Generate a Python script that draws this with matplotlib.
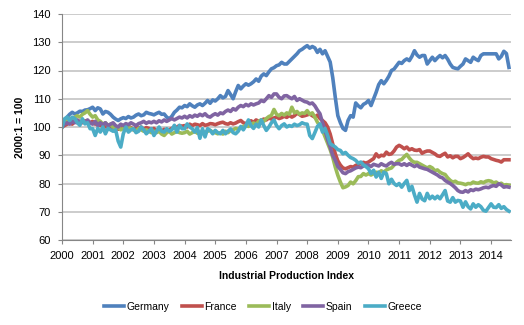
import numpy as np
import matplotlib
matplotlib.use("Agg")
import matplotlib.pyplot as plt

plt.rcParams['font.family'] = ['Liberation Sans', 'DejaVu Sans']

countries = ["Germany", "France", "Italy", "Spain", "Greece"]
colors = ["#4F81BD", "#C0504D", "#9BBB59", "#8064A2", "#4BACC6"]
start_year = 2000
x_ticks = list(range(2000, 2015))
y_ticks = [60, 70, 80, 90, 100, 110, 120, 130, 140]

germany = [
    100, 102, 103.5, 104.5, 105.2, 104.6, 105, 105.6, 105.5, 106, 106.1, 106.5,
    107, 105.8, 106.8, 106.4, 104.6, 105.5, 105.2, 104.5, 103.5, 102.8, 102.3, 102.9,
    103.3, 103, 103.7, 103.2, 103.5, 104.2, 104.6, 104, 104.3, 105.2, 104.8, 104.6,
    104.3, 104.8, 105.2, 104.5, 104.6, 103.5, 102.9, 103.8, 105.2, 106, 107, 106.8,
    107.6, 107.2, 108.2, 107.5, 107, 107.8, 108.2, 107.6, 108.4, 109.4, 108.4, 109.6,
    109.2, 110, 111.1, 110.3, 110.8, 112.9, 111.5, 110, 112.5, 114.7, 113.5, 114.5,
    115.3, 114.8, 115.3, 116, 117, 116.2, 118, 118.8, 118.2, 119.5, 120.6, 121,
    121.7, 122, 122.9, 122.3, 122.3, 123.2, 124.1, 125, 125.9, 127, 127.5, 128.2,
    128.8, 127.9, 128.5, 128, 126.4, 127.5, 125.9, 127, 125, 123, 117.5, 110.5,
    104, 101.5, 99.5, 98.8, 102.3, 104, 103.5, 108.5, 107.5, 106.8, 108, 108.5,
    109.4, 107.6, 110, 112.3, 115, 116.4, 115.3, 116.5, 118, 120, 120.5, 121.7,
    122.9, 122.5, 123.5, 124.1, 123.5, 125, 127, 125.5, 124.7, 125.3, 125.3, 122.3,
    123.5, 124.7, 123.5, 124.5, 125.3, 124.5, 125.3, 124, 122.3, 121.1, 120.8, 120.6,
    121.5, 122.3, 124.1, 123.5, 122.9, 124.7, 124, 123.5, 125.3, 125.9, 125.9, 125.9,
    125.9, 125.9, 125.9, 124.1, 125, 126.8, 126, 121.1,
]

france = [
    100, 100.5, 101, 101.5, 101, 102, 101.5, 102, 101.5, 102.2, 101.8, 101.5,
    102, 101, 101.5, 100.5, 101, 100, 100.5, 100.2, 99.5, 100, 99.2, 99.5,
    100, 99.5, 100.2, 99.8, 99, 100, 99.5, 100, 99.2, 99.8, 99.5, 99,
    99.5, 98.5, 99, 98.5, 99.2, 98.5, 99, 99.5, 99.8, 100, 100.5, 100.3,
    100.5, 100, 101, 100.5, 101, 100.8, 100.5, 101.2, 100.6, 100.8, 101.2, 101.1,
    100.8, 101.2, 101.5, 101.7, 101.2, 101, 101.5, 101.1, 101.4, 101.9, 102.3, 101.5,
    101.2, 101.8, 102.2, 101.6, 102.5, 102, 102.4, 102.8, 102.5, 103.2, 102.8, 103.2,
    103.5, 103, 103.3, 103.8, 103.4, 104.1, 103.5, 104, 104.9, 104.4, 103.8, 104,
    104.3, 104.6, 104, 103.5, 104.2, 103, 102.3, 101.5, 100, 97.5, 94, 90.5,
    88, 86.5, 85.5, 85.2, 85.6, 86, 85.8, 86.4, 86.8, 87, 87.5, 87.2,
    87.6, 88.2, 88.8, 90.5, 89.4, 90, 89.8, 91.1, 90.3, 90.5, 91.5, 92.9,
    93.5, 93, 92.3, 92.9, 91.9, 92.3, 91.8, 91.7, 92, 90.7, 91.2, 91.5,
    91.5, 91, 90.5, 89.8, 89.6, 90.2, 90.7, 89.4, 89.8, 89.1, 89.6, 89.6,
    88.8, 89.2, 89.8, 90.5, 89.5, 88.8, 89, 88.8, 89.3, 89.6, 89.4, 89.4,
    88.8, 88.5, 88.2, 88, 87.6, 88.4, 88.4, 88.4,
]

italy = [
    100, 101.5, 102.5, 103, 102, 103.5, 104, 103.5, 104.5, 105, 105.8, 104.5,
    103.5, 104, 102.5, 102, 101, 101.5, 100.5, 101, 100, 99.5, 100, 99,
    99.5, 99, 100, 99.5, 99, 98.5, 99.5, 99, 98.5, 99, 98.5, 98,
    98.5, 98, 98.5, 97.5, 97, 98, 98.5, 97.5, 98, 98.5, 98, 97.8,
    98, 98.5, 97.5, 98, 98.5, 97.8, 98.2, 98, 98.2, 98.5, 98.8, 98.2,
    98, 97.6, 98, 97.5, 98.5, 98, 98.8, 99, 99.5, 99.2, 99.8, 100.2,
    100.5, 100.2, 101, 101.4, 101, 102, 102.5, 102, 103, 103.7, 104.1, 106.2,
    104.5, 104, 104.8, 104.2, 105, 104.5, 107, 105, 105.5, 104.5, 105, 104.8,
    105.8, 104.5, 105, 103.5, 101.7, 100.5, 98.8, 96.5, 94.1, 92, 89.3, 85.8,
    82.9, 80.5, 78.5, 78.8, 79.3, 80.5, 79.9, 81, 82.4, 82.5, 83.5, 83,
    83.5, 83, 83.5, 84, 83.8, 84.5, 84, 84.8, 85.2, 85.5, 86.5, 87.5,
    88.2, 88.5, 89.5, 90.3, 89, 88, 87.5, 87.5, 87, 86.5, 86, 85.5,
    86, 85.5, 84.5, 84.8, 84, 83.5, 83.2, 82, 81.1, 80.5, 80.8, 80.2,
    80.1, 79.9, 79.6, 80, 79.9, 80.5, 80.2, 80.1, 80.6, 80.3, 80.8, 81,
    80.8, 80.2, 80.5, 79.8, 80.1, 79.4, 79.6, 79.4,
]

spain = [
    100, 101, 101.5, 101, 102, 101.5, 102.5, 101.8, 102, 101.5, 102.5, 101.5,
    101, 102, 100.5, 101.5, 100.8, 101.5, 100.5, 101, 101.5, 100.5, 100, 101,
    100.5, 101.2, 100.8, 101.5, 101, 100.5, 101.2, 101.5, 102, 101.3, 101.8, 101.5,
    102, 101.5, 102.2, 101.8, 102.5, 102, 102.5, 103, 102.5, 103, 103.5, 103.2,
    103.8, 103.2, 104, 103.5, 104.2, 103.8, 104.5, 104, 104.7, 103.8, 103.5, 104.2,
    104.7, 104.2, 105, 104.7, 105.5, 106, 105.5, 106.5, 106, 107, 107.6, 107.2,
    108, 107.5, 108.2, 107.8, 108.2, 108.5, 109.4, 109, 110, 111.1, 110.5, 111.7,
    111.7, 110.5, 110, 111, 111.1, 110.5, 110, 110.8, 109.4, 110, 109.5, 109,
    108.8, 108.2, 108.5, 107.5, 106, 104.7, 101.5, 98.8, 95.5, 92.9, 90, 88.2,
    86, 85, 83.8, 83.5, 84.2, 84.5, 85, 85.5, 85.8, 85.6, 86.2, 86.5,
    86.5, 86, 86.8, 86.5, 86.2, 87, 86.5, 86.2, 87, 87.5, 86.8, 87,
    87, 86.5, 87, 86.4, 87, 86.5, 86, 86.5, 85.8, 85.5, 85.2, 85,
    84.5, 84, 83.5, 83, 82.3, 82, 81.1, 80.5, 80, 79.3, 78.5, 77.5,
    77, 76.9, 77.5, 77, 77.8, 77.5, 78, 77.8, 78.1, 78.5, 78.7, 78.5,
    79, 79.3, 79, 79.9, 79.5, 78.7, 78.9, 78.7,
]

greece = [
    100, 102.9, 103.5, 102.3, 103.5, 103, 101.5, 100.6, 102.9, 101.1, 101.5, 99.4,
    99.4, 97, 99.5, 98.2, 100, 97.6, 99.5, 99, 98.5, 99, 95, 92.9,
    97.6, 100, 98.2, 99, 99.4, 98, 98.5, 100, 99, 97.6, 98.5, 99.4,
    97, 98.5, 100, 98.5, 98.2, 99.4, 98.5, 99, 100.6, 98.2, 100.6, 99.4,
    99.4, 101.1, 100, 99.4, 98.2, 99.8, 96, 99.4, 96.5, 99.4, 98.8, 97.6,
    98.8, 98, 97.6, 98.8, 97.6, 98.5, 99.3, 98, 97.6, 98.5, 100.2, 99,
    100.5, 102.5, 100.5, 99.5, 101, 100, 102.5, 100.5, 98.8, 100, 101.5, 102.5,
    100.5, 99.4, 100.5, 101.1, 100, 100.5, 100.2, 101, 100.5, 100.8, 101.5, 101.1,
    101, 97, 95.9, 98, 100.2, 101.1, 98.2, 99.5, 97, 94.1, 93.5, 92.9,
    92, 91.7, 90.5, 91, 90, 89.2, 88.8, 88.2, 87.2, 87.6, 86.6, 86,
    85.2, 83.5, 84.7, 82.3, 84, 81.8, 84, 83.5, 79.9, 81.5, 80, 79.3,
    80, 78.7, 80, 81.1, 77.5, 79, 76, 73.4, 76.5, 74.5, 73.9, 76.5,
    74.6, 75.5, 74.6, 75.5, 74.6, 76, 77.5, 73.8, 73.4, 75, 73.4, 74,
    73.8, 71.6, 73.5, 71.8, 71, 72.8, 71.6, 72.5, 71.8, 70.5, 70.2, 71.5,
    72.8, 71.6, 71.5, 72.5, 71.2, 71.8, 70.8, 70.2,
]

series = [germany, france, italy, spain, greece]

fig = plt.figure(figsize=(5.24, 3.25), dpi=100)
ax = fig.add_axes([62 / 524, 1 - 240 / 325, (511 - 62) / 524, (240 - 14) / 325])

for name, vals, col in zip(countries, series, colors):
    t = start_year + np.arange(len(vals)) / 12.0
    ax.plot(t, vals, color=col, lw=2.6, label=name, solid_joinstyle='round')

ax.set_xlim(2000, 2014.65)
ax.set_ylim(60, 140)
ax.set_xticks(x_ticks)
ax.set_xticklabels([str(v) for v in x_ticks])
ax.set_yticks(y_ticks)
ax.grid(axis='y', color='#BFBFBF', lw=1.1)
ax.set_axisbelow(True)
for s in ['top', 'right']:
    ax.spines[s].set_visible(False)
for s in ['left', 'bottom']:
    ax.spines[s].set_color('#868686')
    ax.spines[s].set_linewidth(0.8)
ax.tick_params(axis='both', colors='#868686', labelcolor='black', labelsize=8,
               length=3, width=0.8, direction='out')
ax.tick_params(axis='x', pad=5)
ax.tick_params(axis='y', pad=5)
ax.set_ylabel("2000:1 = 100", fontsize=7.5, fontweight='bold', labelpad=5)
ax.set_xlabel("Industrial Production Index", fontsize=7.5, fontweight='bold', labelpad=7)

fig.legend(loc='center', bbox_to_anchor=(263 / 524, 1 - 307 / 325), ncol=5,
           frameon=False, fontsize=7.5, handlelength=1.9, handletextpad=0.25,
           columnspacing=1.2)

fig.savefig("out.png", dpi=100)
